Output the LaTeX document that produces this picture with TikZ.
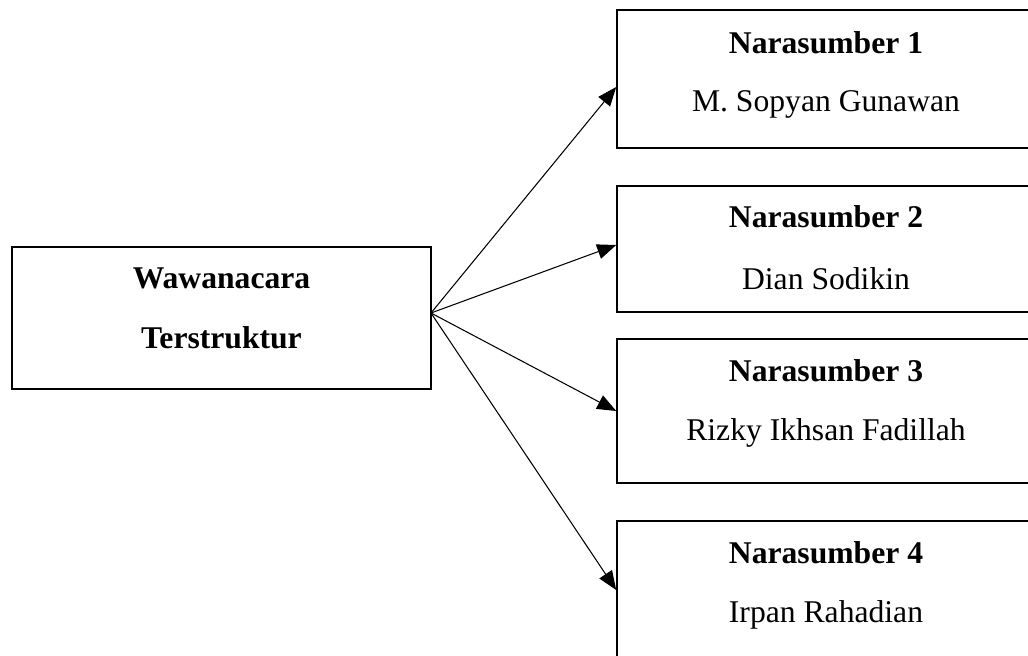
\documentclass[tikz,border=0pt]{standalone}
\usepackage{fontspec}
\setmainfont{Liberation Serif}
\usetikzlibrary{arrows.meta}

\tikzset{
  box/.style={draw, line width=0.9pt, inner sep=0pt},
  txt/.style={font=\fontsize{18}{22}\selectfont, inner sep=0pt},
  link/.style={line width=0.6pt, -{Triangle[length=0.38cm,width=0.3cm]}}
}

\begin{document}
\begin{tikzpicture}
			\useasboundingbox (0,0) rectangle (20.56,-13.1);
			\clip (0,0) rectangle (20.56,-13.1);

			% Left box
			\node [box, minimum width=8.38cm, minimum height=2.84cm] (wc) at (4.43,-6.36) {};
			\node [txt, font=\fontsize{18}{22}\selectfont\bfseries] (wc1) at (4.43,-5.56) {Wawanacara};
			\node [txt, font=\fontsize{18}{22}\selectfont\bfseries] (wc2) at (4.43,-6.76) {Terstruktur};
			\coordinate (src) at (8.62,-6.26);

			% Right boxes
			\node [box, minimum width=8.36cm, minimum height=2.76cm] (n1) at (16.52,-1.58) {};
			\node [txt, font=\fontsize{18}{22}\selectfont\bfseries] (n1a) at (16.52,-0.86) {Narasumber 1};
			\node [txt] (n1b) at (16.52,-2.08) {M. Sopyan Gunawan};

			\node [box, minimum width=8.36cm, minimum height=2.52cm] (n2) at (16.52,-4.98) {};
			\node [txt, font=\fontsize{18}{22}\selectfont\bfseries] (n2a) at (16.52,-4.34) {Narasumber 2};
			\node [txt] (n2b) at (16.52,-5.58) {Dian Sodikin};

			\node [box, minimum width=8.36cm, minimum height=2.88cm] (n3) at (16.52,-8.22) {};
			\node [txt, font=\fontsize{18}{22}\selectfont\bfseries] (n3a) at (16.52,-7.42) {Narasumber 3};
			\node [txt] (n3b) at (16.52,-8.66) {Rizky Ikhsan Fadillah};

			\node [box, minimum width=8.36cm, minimum height=2.76cm] (n4) at (16.52,-11.8) {};
			\node [txt, font=\fontsize{18}{22}\selectfont\bfseries] (n4a) at (16.52,-11.06) {Narasumber 4};
			\node [txt] (n4b) at (16.52,-12.30) {Irpan Rahadian};

			% Arrows
			\draw [link] (src) -- ([yshift=-0.16cm]n1.west);
			\draw [link] (src) -- ([yshift=0.08cm]n2.west);
			\draw [link] (src) -- (n3.west);
			\draw [link] (src) -- (n4.west);
		\end{tikzpicture}
\end{document}
